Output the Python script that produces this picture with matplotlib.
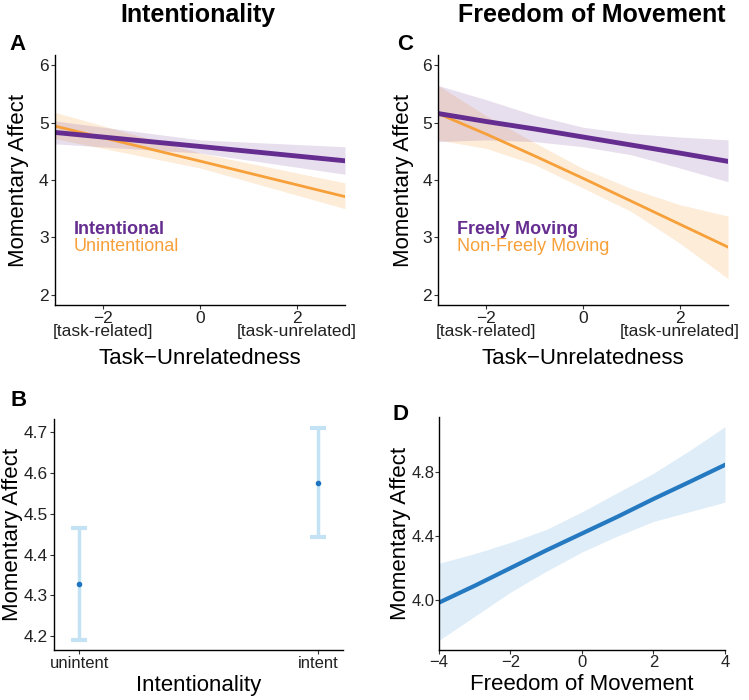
import matplotlib
matplotlib.use("Agg")
from matplotlib import pyplot as plt

plt.rcParams['font.family'] = ['Liberation Sans', 'DejaVu Sans']

# Panel A: task-unrelatedness x intentionality
task_x = [-3, 0, 3]
intent_fit = [4.83, 4.585, 4.335]
intent_lo = [4.63, 4.47, 4.10]
intent_hi = [5.03, 4.70, 4.58]
unintent_fit = [4.94, 4.33, 3.71]
unintent_lo = [4.72, 4.21, 3.50]
unintent_hi = [5.18, 4.47, 3.95]

# Panel C: task-unrelatedness x freedom of movement
move_x = [-3, -2, -1, 0, 1, 2, 3]
free_fit = [5.16, 5.02, 4.89, 4.75, 4.61, 4.47, 4.325]
free_lo = [4.67, 4.70, 4.67, 4.58, 4.44, 4.21, 3.97]
free_hi = [5.65, 5.40, 5.13, 4.92, 4.81, 4.75, 4.70]
nonfree_fit = [5.16, 4.80, 4.42, 4.03, 3.63, 3.23, 2.83]
nonfree_lo = [4.70, 4.55, 4.27, 3.86, 3.45, 2.90, 2.28]
nonfree_hi = [5.65, 5.12, 4.65, 4.20, 3.85, 3.57, 3.37]

# Panel B: intentionality main effect
b_labels = ["unintent", "intent"]
b_mean = [4.328, 4.576]
b_lo = [4.191, 4.442]
b_hi = [4.465, 4.711]

# Panel D: freedom of movement main effect
fom_x = [-4, -3, -2, -1, 0, 1, 2, 3, 4]
fom_fit = [3.985, 4.09, 4.20, 4.31, 4.415, 4.52, 4.63, 4.735, 4.842]
fom_lo = [3.75, 3.90, 4.05, 4.18, 4.30, 4.40, 4.49, 4.55, 4.61]
fom_hi = [4.23, 4.29, 4.36, 4.44, 4.55, 4.67, 4.79, 4.93, 5.08]

purple = "#662d91"
orange = "#f7a03a"
light_blue = "#c3e2f4"
blue = "#1f74bf"

fig = plt.figure(figsize=(7.49, 7.0), dpi=100)

def style(ax):
    for s in ["top", "right"]:
        ax.spines[s].set_visible(False)
    for s in ["left", "bottom"]:
        ax.spines[s].set_linewidth(1.0)
        ax.spines[s].set_color("black")
    ax.tick_params(length=3, width=0.8, color="#333333", labelsize=12.5,
                   labelcolor="#222222", pad=1.5)

def top_panel(ax, x, fit1, lo1, hi1, fit2, lo2, hi2, name1, name2):
    ax.fill_between(x, lo2, hi2, color=orange, alpha=0.2, lw=0)
    ax.fill_between(x, lo1, hi1, color=purple, alpha=0.15, lw=0)
    ax.plot(x, fit2, color=orange, lw=2.0)
    ax.plot(x, fit1, color=purple, lw=3.5)
    ax.set_xlim(-3, 3)
    ax.set_ylim(1.82, 6.18)
    ax.set_yticks([2, 3, 4, 5, 6])
    ax.set_xticks([-2, 0, 2])
    ax.set_xticklabels(["\u22122\n[task-related]", "0", "2\n[task-unrelated]"],
                       linespacing=0.85)
    ax.set_xlabel("Task\u2212Unrelatedness", fontsize=16, labelpad=6)
    ax.set_ylabel("Momentary Affect", fontsize=16)
    ax.text(0.065, 0.30, name1, transform=ax.transAxes, color=purple,
            fontsize=13, fontweight="bold", va="center")
    ax.text(0.065, 0.232, name2, transform=ax.transAxes, color=orange,
            fontsize=13, va="center")
    style(ax)

# A
axA = fig.add_axes([0.0734, 0.5643, 0.3872, 0.3571])
top_panel(axA, task_x, intent_fit, intent_lo, intent_hi,
          unintent_fit, unintent_lo, unintent_hi, "Intentional", "Unintentional")
axA.yaxis.set_label_coords(-0.09, 0.5)

# C
axC = fig.add_axes([0.5848, 0.5643, 0.3872, 0.3571])
top_panel(axC, move_x, free_fit, free_lo, free_hi,
          nonfree_fit, nonfree_lo, nonfree_hi, "Freely Moving", "Non-Freely Moving")
axC.yaxis.set_label_coords(-0.083, 0.5)

# B
axB = fig.add_axes([0.0721, 0.0714, 0.3858, 0.3300])
b_pos = [1, 2]
err = [[m - l for m, l in zip(b_mean, b_lo)], [h - m for m, h in zip(b_mean, b_hi)]]
axB.errorbar(b_pos, b_mean, yerr=err, fmt="none", ecolor=light_blue,
             elinewidth=2.5, capsize=6, capthick=3)
axB.plot(b_pos, b_mean, "o", color=blue, ms=3)
axB.set_xlim(0.895, 2.105)
axB.set_ylim(4.166, 4.732)
axB.set_yticks([4.2, 4.3, 4.4, 4.5, 4.6, 4.7])
axB.set_xticks(b_pos)
axB.set_xticklabels(b_labels)
axB.set_xlabel("Intentionality", fontsize=16, labelpad=3)
axB.set_ylabel("Momentary Affect", fontsize=16)
style(axB)
axB.tick_params(axis="x", labelsize=12)
axB.yaxis.set_label_coords(-0.107, 0.5)

# D
axD = fig.add_axes([0.5861, 0.0714, 0.3818, 0.3329])
axD.fill_between(fom_x, fom_lo, fom_hi, color="#2b8ad0", alpha=0.15, lw=0)
axD.plot(fom_x, fom_fit, color="#2479c1", lw=3)
axD.set_xlim(-4, 4)
axD.set_ylim(3.69, 5.14)
axD.set_yticks([4.0, 4.4, 4.8])
axD.set_xticks([-4, -2, 0, 2, 4])
axD.set_xlabel("Freedom of Movement", fontsize=16, labelpad=3)
axD.set_ylabel("Momentary Affect", fontsize=16)
style(axD)
axD.tick_params(labelsize=12, pad=0.5)
axD.yaxis.set_label_coords(-0.098, 0.5)

# titles and panel letters
fig.text(198 / 749, 1 - 15 / 700, "Intentionality", fontsize=18, fontweight="bold",
         ha="center", va="center")
fig.text(592 / 749, 1 - 15 / 700, "Freedom of Movement", fontsize=18, fontweight="bold",
         ha="center", va="center")
for lab, x, y in [("A", 17, 45), ("C", 405, 45), ("B", 19, 400), ("D", 401, 414)]:
    fig.text(x / 749, 1 - y / 700, lab, fontsize=16, fontweight="bold",
             ha="center", va="center")

fig.savefig("out.png", dpi=100)
